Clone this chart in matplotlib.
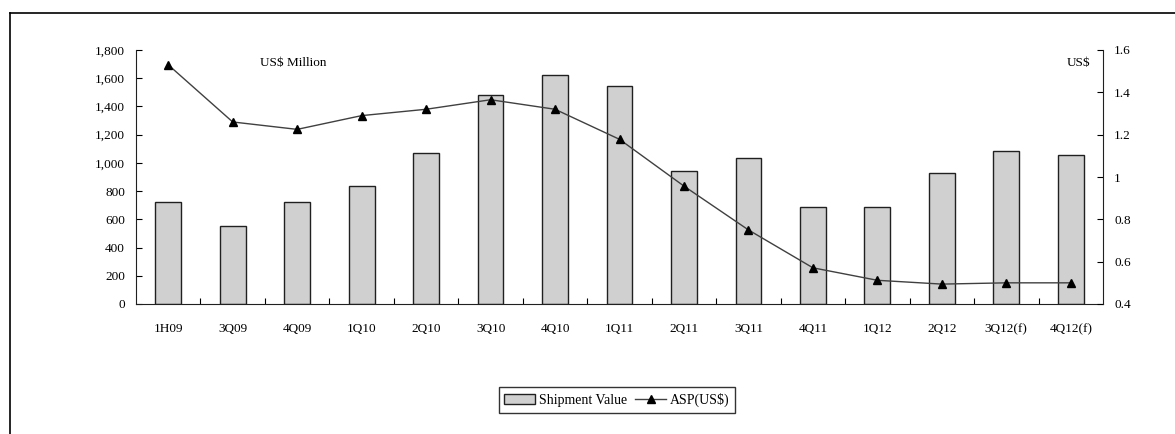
import numpy as np
import matplotlib
matplotlib.use("Agg")
import matplotlib.pyplot as plt
from matplotlib.lines import Line2D
from matplotlib.ticker import FuncFormatter, FixedLocator

plt.rcParams['font.family'] = ['Liberation Serif', 'DejaVu Serif']

# Data
quarters = ['1H09', '3Q09', '4Q09', '1Q10', '2Q10', '3Q10', '4Q10', '1Q11',
            '2Q11', '3Q11', '4Q11', '1Q12', '2Q12', '3Q12(f)', '4Q12(f)']
shipment_value = [725, 553, 725, 838, 1070, 1481, 1620, 1543,
                  945, 1035, 687, 687, 928, 1087, 1058]
asp = [1.53, 1.26, 1.225, 1.29, 1.32, 1.365, 1.32, 1.178,
       0.957, 0.75, 0.571, 0.512, 0.494, 0.50, 0.50]

fig = plt.figure(figsize=(11.75, 4.34), dpi=100)
ax = fig.add_axes([136 / 1175, 1 - 304 / 434, (1103 - 136) / 1175, (304 - 50) / 434])
ax2 = ax.twinx()

x = np.arange(len(quarters))
bars = ax.bar(x, shipment_value, width=0.4, color='#d0d0d0', edgecolor='#202020',
              linewidth=1.0, label='Shipment Value', zorder=2)
line, = ax2.plot(x, asp, color='#404040', linewidth=1.0, marker='^', markersize=6,
                 markerfacecolor='black', markeredgecolor='black', label='ASP(US$)')

ax.set_xlim(-0.5, len(quarters) - 0.5)
ax.set_ylim(0, 1800)
ax.set_yticks(range(0, 1801, 200))
ax.yaxis.set_major_formatter(FuncFormatter(lambda v, p: f'{int(v):,}'))
ax.set_xticks(x)
ax.set_xticklabels(quarters)
ax.xaxis.set_minor_locator(FixedLocator(np.arange(0.5, len(quarters) - 1, 1.0)))
ax.tick_params(axis='x', which='major', length=0, pad=14, labelsize=9.5)
ax.tick_params(axis='x', which='minor', direction='in', length=4, width=0.8)
ax.tick_params(axis='y', direction='in', length=4, width=0.8, labelsize=9.5, pad=8)

ax2.set_ylim(0.4, 1.6)
ax2.set_yticks([0.4, 0.6, 0.8, 1.0, 1.2, 1.4, 1.6])
ax2.yaxis.set_major_formatter(FuncFormatter(lambda v, p: f'{v:g}'))
ax2.tick_params(axis='y', direction='in', length=4, width=0.8, labelsize=9.5, pad=8)

for a in (ax, ax2):
    a.spines['top'].set_visible(False)
    a.spines['left'].set_color('#202020')
    a.spines['right'].set_color('#202020')
    a.spines['bottom'].set_color('#202020')
ax.spines['right'].set_visible(False)
ax2.spines['left'].set_visible(False)
ax2.spines['bottom'].set_visible(False)

fig.text(293 / 1175, 1 - 63 / 434, 'US$ Million', ha='center', va='center', fontsize=9.5)
fig.text(1079 / 1175, 1 - 63 / 434, 'US$', ha='center', va='center', fontsize=9.5)

leg = fig.legend([bars, line], ['Shipment Value', 'ASP(US$)'], loc='center',
                 bbox_to_anchor=(617 / 1175, 1 - 400 / 434), ncol=2, frameon=True,
                 fancybox=False, edgecolor='black', fontsize=10, handlelength=2.2,
                 handletextpad=0.3, columnspacing=0.6, borderpad=0.4)
leg.get_frame().set_linewidth(1.0)

# outer chart frame (top and left edges only are visible)
fig.add_artist(Line2D([10 / 1175, 1], [1 - 13 / 434, 1 - 13 / 434], color='black', linewidth=1.2))
fig.add_artist(Line2D([10 / 1175, 10 / 1175], [0, 1 - 13 / 434], color='black', linewidth=1.2))

fig.savefig('out.png', dpi=100)
